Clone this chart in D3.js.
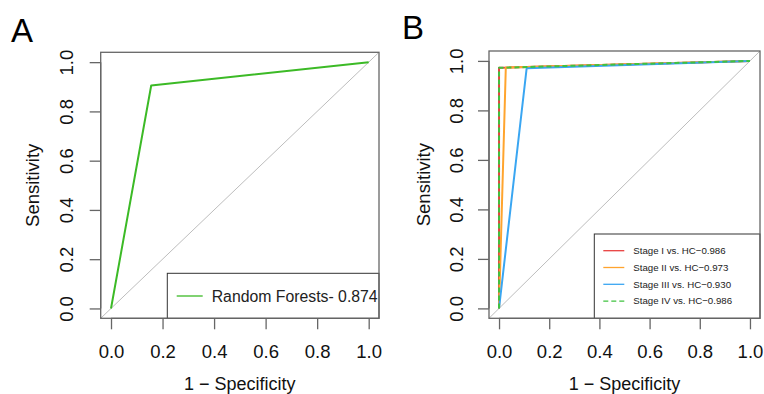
<!DOCTYPE html>
<html><head><meta charset="utf-8">
<script src="https://cdn.jsdelivr.net/npm/d3@7"></script>
<style>body{margin:0;background:#fff;} svg{display:block;} text{font-family:"Liberation Sans",Arial,sans-serif;}</style>
</head><body><svg id="c" width="764" height="394"></svg>
<script>
// ---- data ----
const ticks = [0, 0.2, 0.4, 0.6, 0.8, 1.0];
const tickLabels = ["0.0", "0.2", "0.4", "0.6", "0.8", "1.0"];
const rfFpr = [0, 0.156, 1];
const rfTpr = [0, 0.905, 1];
const rfLabel = "Random Forests- 0.874";
const stageNames = ["Stage I vs. HC\u22120.986", "Stage II vs. HC\u22120.973", "Stage III vs. HC\u22120.930", "Stage IV vs. HC\u22120.986"];
const stageFpr = [[0, 0, 1], [0, 0.027, 1], [0, 0.11, 1], [0, 0, 1]];
const stageTpr = [[0, 0.972, 1], [0, 0.973, 1], [0, 0.97, 1], [0, 0.972, 1]];
const stageColors = ["#e8403f", "#ffa42e", "#3aa6f2", "#3fc23f"];
const stageDash = [null, null, null, "5,3"];

const svg = d3.select("#c");
const font = '"Liberation Sans",Arial,sans-serif';

function panel(opt) {
  const x = d3.scaleLinear().domain([-0.04, 1.04]).range([opt.left, opt.right]);
  const y = d3.scaleLinear().domain([-0.04, 1.04]).range([opt.bottom, opt.top]);
  const g = svg.append("g");
  const cid = "clip" + opt.id;
  svg.append("defs").append("clipPath").attr("id", cid).append("rect")
    .attr("x", opt.left).attr("y", opt.top).attr("width", opt.right - opt.left).attr("height", opt.bottom - opt.top);
  // diagonal
  g.append("line").attr("clip-path", `url(#${cid})`)
    .attr("x1", x(-0.04)).attr("y1", y(-0.04)).attr("x2", x(1.04)).attr("y2", y(1.04))
    .attr("stroke", "#bdbdbd").attr("stroke-width", 1);
  // axes
  const xa = g.append("g").attr("transform", `translate(0,${opt.bottom})`)
    .call(d3.axisBottom(x).tickValues(ticks).tickFormat((d, i) => tickLabels[i]).tickSize(11).tickPadding(16));
  const ya = g.append("g").attr("transform", `translate(${opt.left},0)`)
    .call(d3.axisLeft(y).tickValues(ticks).tickFormat((d, i) => tickLabels[i]).tickSize(11).tickPadding(0));
  [xa, ya].forEach(a => {
    a.select(".domain").remove();
    a.selectAll("line").attr("stroke", "#666").attr("stroke-width", 1.3);
    a.selectAll("text").attr("fill", "#111").style("font-size", "18.5px").style("font-family", font);
  });
  xa.selectAll("text").attr("dy", "0.35em").attr("y", 33.4);
  ya.selectAll("text").attr("x", null).attr("dy", null)
    .attr("text-anchor", "middle")
    .attr("transform", `translate(${opt.ylabX - opt.left},0) rotate(-90)`)
    .attr("dy", "0.35em");
  // axis lines spanning ticks
  g.append("line").attr("x1", x(0)).attr("x2", x(1)).attr("y1", opt.bottom).attr("y2", opt.bottom).attr("stroke", "#666").attr("stroke-width", 1.3);
  g.append("line").attr("y1", y(0)).attr("y2", y(1)).attr("x1", opt.left).attr("x2", opt.left).attr("stroke", "#666").attr("stroke-width", 1.3);
  // curves
  const line = d3.line().x(d => x(d[0])).y(d => y(d[1]));
  opt.series.forEach(s => {
    g.append("path").attr("clip-path", `url(#${cid})`)
      .datum(s.fpr.map((f, i) => [f, s.tpr[i]]))
      .attr("d", line).attr("fill", "none").attr("stroke", s.color).attr("stroke-width", 2)
      .attr("stroke-dasharray", s.dash).attr("stroke-linejoin", "round");
  });
  // legend
  const L = opt.legend;
  g.append("rect").attr("x", L.x).attr("y", L.y).attr("width", opt.right - L.x).attr("height", opt.bottom - L.y)
    .attr("fill", "#fff").attr("stroke", "#333").attr("stroke-width", 1);
  opt.series.forEach((s, i) => {
    const yy = L.y0 + i * L.dy;
    g.append("line").attr("x1", L.lx1).attr("x2", L.lx2).attr("y1", yy).attr("y2", yy)
      .attr("stroke", s.color).attr("stroke-width", 1.3).attr("stroke-dasharray", s.dash);
    g.append("text").attr("x", L.tx).attr("y", yy).attr("dy", "0.35em")
      .style("font-size", L.fs + "px").attr("fill", "#222").text(s.name);
  });
  // box
  g.append("rect").attr("x", opt.left).attr("y", opt.top).attr("width", opt.right - opt.left).attr("height", opt.bottom - opt.top)
    .attr("fill", "none").attr("stroke", "#666").attr("stroke-width", 1.3);
  // labels
  g.append("text").attr("x", (x(0) + x(1)) / 2).attr("y", 390).attr("text-anchor", "middle")
    .style("font-size", "18px").attr("fill", "#111").text("1 \u2212 Specificity");
  g.append("text").attr("transform", `translate(${opt.titleX},${(opt.top + opt.bottom) / 2}) rotate(-90)`)
    .attr("text-anchor", "middle").attr("dy", "0.35em")
    .style("font-size", "18.5px").attr("fill", "#111").text("Sensitivity");
  g.append("text").attr("x", opt.tagX).attr("y", opt.tagY).style("font-size", "33px").attr("fill", "#000").text(opt.tag);
}

panel({
  id: "A", left: 100.7, right: 379, top: 52.3, bottom: 318.3, ylabX: 66.7, titleX: 32.3,
  tag: "A", tagX: 11, tagY: 41.7,
  series: [{ fpr: rfFpr, tpr: rfTpr, color: "#3cba26", dash: null, name: rfLabel }],
  legend: { x: 167.3, y: 273.3, y0: 296, dy: 0, lx1: 176.7, lx2: 202.7, tx: 211.7, fs: 15.8 }
});
panel({
  id: "B", left: 489, right: 760, top: 51, bottom: 318.3, ylabX: 456.7, titleX: 423.3,
  tag: "B", tagX: 402, tagY: 39,
  series: stageNames.map((n, i) => ({ name: n, fpr: stageFpr[i], tpr: stageTpr[i], color: stageColors[i], dash: stageDash[i] })),
  legend: { x: 594.3, y: 234, y0: 250.7, dy: 16.8, lx1: 603.3, lx2: 624.3, tx: 633.3, fs: 9.7 }
});
</script></body></html>
